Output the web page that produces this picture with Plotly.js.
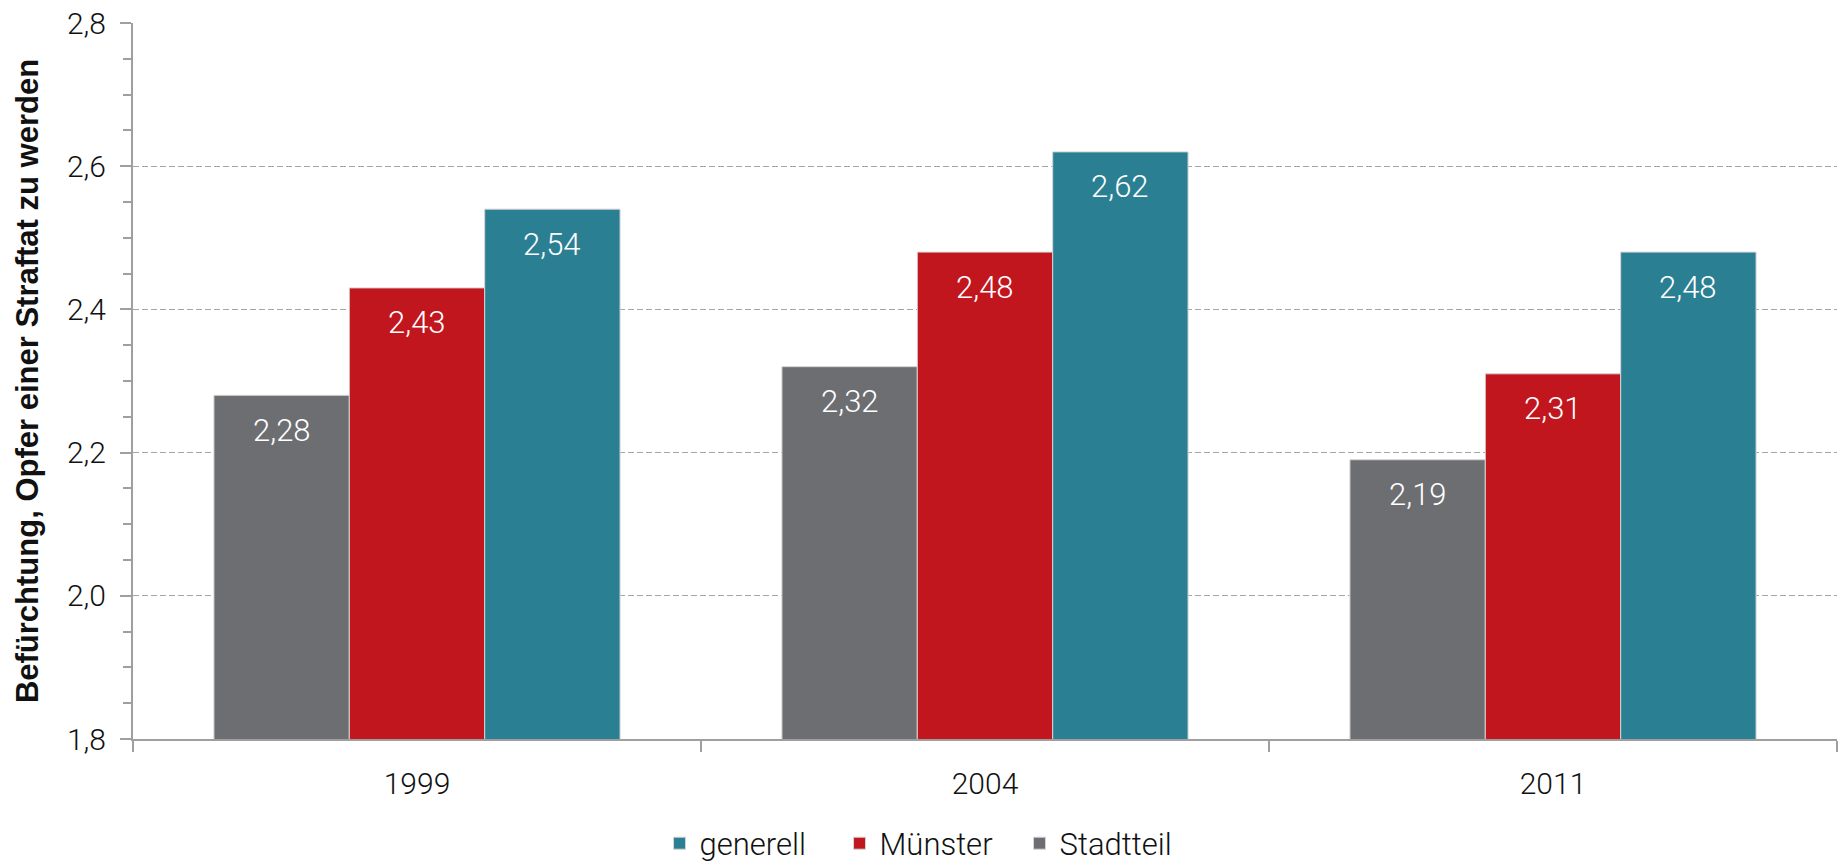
<!DOCTYPE html>
<html>
<head>
<meta charset="utf-8">
<script src="https://cdn.plot.ly/plotly-3.0.1.min.js"></script>
<style>html,body{margin:0;padding:0;background:#fff;}#chart{width:1841px;height:867px;}</style>
</head>
<body>
<div id="chart"></div>
<script>
const categories = ['1999', '2004', '2011'];
const seriesNames = ['Stadtteil', 'Münster', 'generell'];
const stadtteil = [2.28, 2.32, 2.19];
const muenster = [2.43, 2.48, 2.31];
const generell = [2.54, 2.62, 2.48];
const yTitle = 'Befürchtung, Opfer einer Straftat zu werden';

const colors = ['#6D6E72', '#C1161E', '#2B7F93'];
const seriesValues = [stadtteil, muenster, generell];
const FONT = 'Roboto, "Open Sans", sans-serif';
const bargap = 0.285;
const yMin = 1.8, yMax = 2.8, yMajor = 0.2, yMinorStep = 0.05;
const AXIS_GREY = '#9f9f9f';

const traces = seriesValues.map((vals, i) => ({
  type: 'bar',
  name: seriesNames[i],
  x: categories,
  y: vals,
  marker: {color: colors[i], line: {color: '#d4d4d4', width: 1}},
  hoverinfo: 'skip'
}));

// value labels placed via the axes from the same data arrays
const bw = (1 - bargap) / seriesValues.length;
const annotations = [];
seriesValues.forEach((vals, i) => {
  vals.forEach((v, j) => {
    annotations.push({
      x: j + (i - (seriesValues.length - 1) / 2) * bw,
      y: v,
      xref: 'x', yref: 'y',
      text: v.toFixed(2).replace('.', ','),
      showarrow: false,
      yanchor: 'middle',
      yshift: -35,
      font: {family: FONT, size: 31, color: '#ffffff', weight: 300}
    });
  });
});

const layout = {
  width: 1841, height: 867,
  margin: {l: 133, r: 4, t: 23, b: 128, autoexpand: false},
  paper_bgcolor: '#ffffff', plot_bgcolor: '#ffffff',
  separators: ',.',
  barmode: 'group',
  bargap: bargap,
  bargroupgap: 0,
  showlegend: true,
  legend: {
    orientation: 'h', x: 0.309, xanchor: 'left', y: -0.146, yanchor: 'middle',
    entrywidth: 135,
    traceorder: 'reversed', font: {family: FONT, size: 31, color: '#111', weight: 300},
    itemclick: false
  },
  font: {family: FONT, color: '#111'},
  xaxis: {
    type: 'category',
    tickson: 'boundaries',
    ticks: 'outside', ticklen: 11, tickwidth: 2, tickcolor: AXIS_GREY,
    showline: true, linecolor: AXIS_GREY, linewidth: 2,
    showgrid: false, zeroline: false,
    tickfont: {family: FONT, size: 30, color: '#111', weight: 300},
    ticklabelstandoff: 17
  },
  yaxis: {
    range: [yMin, yMax], tickmode: 'linear', dtick: yMajor, tick0: yMin, tickformat: '.1f',
    ticks: 'outside', ticklen: 11, tickwidth: 2, tickcolor: AXIS_GREY,
    showline: true, linecolor: AXIS_GREY, linewidth: 2,
    showgrid: true, gridcolor: '#a6a6a6', gridwidth: 1, griddash: '6px,3px',
    zeroline: false,
    minor: {dtick: yMinorStep, ticks: 'outside', ticklen: 8, tickwidth: 2, tickcolor: AXIS_GREY, showgrid: false},
    tickfont: {family: FONT, size: 30, color: '#111', weight: 300},
    ticklabelstandoff: 8,
    title: {text: yTitle, standoff: 19, font: {family: '"Liberation Sans", Arial, sans-serif', size: 31, color: '#111', weight: 'bold'}}
  },
  annotations: annotations
};

Plotly.newPlot('chart', traces, layout, {displayModeBar: false, staticPlot: true});
</script>
</body>
</html>
